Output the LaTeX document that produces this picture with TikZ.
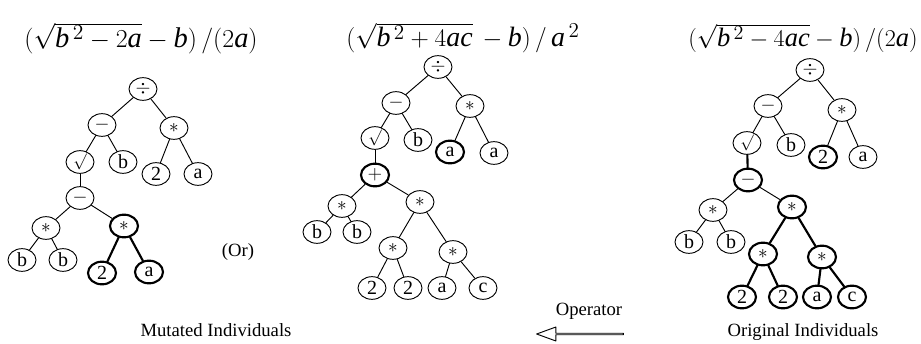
\documentclass[tikz,border=0pt]{standalone}
\usepackage{fontspec}
\usepackage{graphicx}
\setmainfont{Liberation Serif}
\usetikzlibrary{shapes.geometric,shapes.arrows}

\begin{document}
\begin{tikzpicture}[
    x=0.75pt,y=-0.75pt,
    line cap=round,
    line join=round,
    every node/.style={font=\fontsize{15}{17}\selectfont},
    gpnode/.style={
        ellipse,
        draw,
        line width=0.7pt,
        minimum width=21pt,
        minimum height=17pt,
        inner sep=0pt
    },
    gpbold/.style={gpnode,line width=1.6pt},
    gproot/.style={gpnode,font=\fontsize{13}{14}\selectfont},
    link/.style={line width=0.7pt},
    linkbold/.style={line width=1.6pt},
    expr/.style={font=\fontsize{19}{22}\selectfont},
    lab/.style={font=\fontsize{14}{16}\selectfont}
]

\useasboundingbox (0,0) rectangle (921,343);

% ============================================================
% formulas
% ============================================================

\node[expr] (Lexpr) at (141,38)
    {\resizebox{175pt}{!}{$(\sqrt{\mathit{b}^{\,2}-2\mathit{a}}-\mathit{b})\,/(2\mathit{a})$}};
\node[expr] (Mexpr) at (463,38)
    {\resizebox{175pt}{!}{$(\sqrt{\mathit{b}^{\,2}+4\mathit{ac}}\,-\mathit{b})\,/\,\mathit{a}^{\,2}$}};
\node[expr] (Rexpr) at (803,38)
    {\resizebox{172pt}{!}{$(\sqrt{\mathit{b}^{\,2}-4\mathit{ac}}-\mathit{b})\,/(2\mathit{a})$}};

% ============================================================
% mutated individual
% ============================================================

\node[gpnode] (Ldiv)  at (143,89)  {$\div$};
\node[gpnode] (Lsub)  at (102,125) {$-$};
\node[gpnode] (Lmul)  at (174,128) {$\ast$};
\node[gproot] (Lsqrt) at (80,162)  {$\surd$};
\node[gpnode] (Lb)    at (123,162) {b};
\node[gpnode] (Ltwo)  at (156,174) {2};
\node[gpnode] (La)    at (198,174) {a};
\node[gpnode] (Lsubb) at (80,198)  {$-$};
\node[gpnode] (Lmula) at (46,228)  {$\ast$};
\node[gpbold] (Lmulb) at (124,226) {$\ast$};
\node[gpnode] (Lba)   at (22,260)  {b};
\node[gpnode] (Lbb)   at (63,260)  {b};
\node[gpbold] (Ltwob) at (102,273) {2};
\node[gpbold] (Lab)   at (149,272) {a};

\draw[link] (Ldiv) -- (Lsub);
\draw[link] (Ldiv) -- (Lmul);
\draw[link] (Lsub) -- (Lsqrt);
\draw[link] (Lsub) -- (Lb);
\draw[link] (Lmul) -- (Ltwo);
\draw[link] (Lmul) -- (La);
\draw[link] (Lsqrt) -- (Lsubb);
\draw[link] (Lsubb) -- (Lmula);
\draw[link] (Lsubb) -- (Lmulb);
\draw[link] (Lmula) -- (Lba);
\draw[link] (Lmula) -- (Lbb);
\draw[linkbold] (Lmulb) -- (Ltwob);
\draw[linkbold] (Lmulb) -- (Lab);

\node[lab] (or) at (238,252) {(Or)};

% ============================================================
% second mutated individual
% ============================================================

\node[gpnode] (Mdiv)  at (438,67)  {$\div$};
\node[gpnode] (Msub)  at (396,103) {$-$};
\node[gpnode] (Mmul)  at (470,106) {$\ast$};
\node[gproot] (Msqrt) at (375,138) {$\surd$};
\node[gpnode] (Mb)    at (418,140) {b};
\node[gpbold] (Ma)    at (450,152) {a};
\node[gpnode] (Maa)   at (494,153) {a};
\node[gpbold] (Madd)  at (375,175) {$+$};
\node[gpnode] (Mmula) at (342,206) {$\ast$};
\node[gpnode] (Mmulb) at (420,202) {$\ast$};
\node[gpnode] (Mba)   at (317,232) {b};
\node[gpnode] (Mbb)   at (357,232) {b};
\node[gpnode] (Mmulc) at (393,248) {$\ast$};
\node[gpnode] (Mmuld) at (453,252) {$\ast$};
\node[gpnode] (Mtwoa) at (372,288) {2};
\node[gpnode] (Mtwob) at (408,288) {2};
\node[gpnode] (Mac)   at (442,288) {a};
\node[gpnode] (Mc)    at (483,288) {c};

\draw[link] (Mdiv) -- (Msub);
\draw[link] (Mdiv) -- (Mmul);
\draw[link] (Msub) -- (Msqrt);
\draw[link] (Msub) -- (Mb);
\draw[link] (Mmul) -- (Ma);
\draw[link] (Mmul) -- (Maa);
\draw[link] (Msqrt) -- (Madd);
\draw[link] (Madd) -- (Mmula);
\draw[link] (Madd) -- (Mmulb);
\draw[link] (Mmula) -- (Mba);
\draw[link] (Mmula) -- (Mbb);
\draw[link] (Mmulb) -- (Mmulc);
\draw[link] (Mmulb) -- (Mmuld);
\draw[link] (Mmulc) -- (Mtwoa);
\draw[link] (Mmulc) -- (Mtwob);
\draw[link] (Mmuld) -- (Mac);
\draw[link] (Mmuld) -- (Mc);

% ============================================================
% original individual
% ============================================================

\node[gpnode] (Rdiv)  at (810,70)  {$\div$};
\node[gpnode] (Rsub)  at (768,106) {$-$};
\node[gpnode] (Rmul)  at (842,110) {$\ast$};
\node[gproot] (Rsqrt) at (747,143) {$\surd$};
\node[gpnode] (Rb)    at (791,145) {b};
\node[gpbold] (Rtwo)  at (823,157) {2};
\node[gpnode] (Ra)    at (863,157) {a};
\node[gpbold] (Rsubb) at (748,180) {$-$};
\node[gpnode] (Rmula) at (713,210) {$\ast$};
\node[gpbold] (Rmulb) at (792,207) {$\ast$};
\node[gpnode] (Rba)   at (689,242) {b};
\node[gpnode] (Rbb)   at (731,242) {b};
\node[gpbold] (Rmulc) at (763,254) {$\ast$};
\node[gpbold] (Rmuld) at (822,257) {$\ast$};
\node[gpbold] (Rtwoa) at (742,297) {2};
\node[gpbold] (Rtwob) at (783,297) {2};
\node[gpbold] (Rac)   at (817,297) {a};
\node[gpbold] (Rc)    at (852,297) {c};

\draw[link] (Rdiv) -- (Rsub);
\draw[link] (Rdiv) -- (Rmul);
\draw[link] (Rsub) -- (Rsqrt);
\draw[link] (Rsub) -- (Rb);
\draw[link] (Rmul) -- (Rtwo);
\draw[link] (Rmul) -- (Ra);
\draw[linkbold] (Rsqrt) -- (Rsubb);
\draw[link] (Rsubb) -- (Rmula);
\draw[link] (Rsubb) -- (Rmulb);
\draw[link] (Rmula) -- (Rba);
\draw[link] (Rmula) -- (Rbb);
\draw[linkbold] (Rmulb) -- (Rmulc);
\draw[linkbold] (Rmulb) -- (Rmuld);
\draw[linkbold] (Rmulc) -- (Rtwoa);
\draw[linkbold] (Rmulc) -- (Rtwob);
\draw[linkbold] (Rmuld) -- (Rac);
\draw[linkbold] (Rmuld) -- (Rc);

% ============================================================
% captions and operator arrow
% ============================================================

\node[lab] (mutcap) at (216,330) {Mutated Individuals};
\node[lab] (orgcap) at (803,332) {Original Individuals};
\node[lab] (opcap)  at (589,311) {Operator};

\node[single arrow,draw,line width=0.7pt,shape border rotate=180,
      minimum height=65pt,minimum width=10.5pt,inner sep=0pt,
      single arrow head extend=3pt,single arrow tip angle=40]
      (oparrow) at (581,334) {};

\end{tikzpicture}
\end{document}
